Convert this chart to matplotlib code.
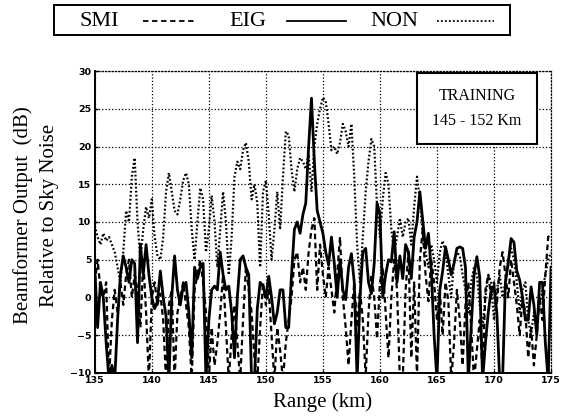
import matplotlib
matplotlib.use("Agg")
import matplotlib.pyplot as plt
from matplotlib.lines import Line2D
import numpy as np

# range samples every 0.25 km, 135 .. 175
range_start = 135.0
range_step = 0.25

# values (dB)
smi = [2, 5, 1, 0, 2, -11, -3, 1, -2, 2, -1, 3, 5, 0, 3, 1, -4, 5, -2, -11,
       0, 2, -1, 0.5, -3, -11, -1, 1, -11, -2, 0, 2, -1, -4, -11, 1, 3, 5, 2, -2,
       -11, -4, -9, -6, -2, 3, -4, -11, -5, -1, -6, -11, -3, 4, 1, -2, -8, -11, -4, 2,
       -1, 1, -5, -11, -4, -7, -11, -6, -3, 0, 5, 6, 2, 4, 1, 6, 9, 10.5, 1, 7,
       3, 0, 4, 1, -2, 3, 8, 0, -4, -9, -3, 2, -4, 1, -3, -10.5, -2, 3, 0, -5.5,
       2, 4, -2, -8, 0, 5, 1, -11, -11, 1, 6, -8, 2, -10.5, 5, 9, 3, -0.5, 5, 2,
       -3, 1, -5, 2, -0.5, -11, -6, 1, -3, -9, -1, 2, -4, -11, -7, -3, -10, 1, 3, 0,
       2, -1, 4, 6, 3, 0, 5, 2, -1, -5, 0, -2, -8, -4, -9, -5, 0, -3, 3, 8,
       8.5]

eig = [4, -4, 2, 0, -6, -11, -9, -11, -3, 3, 5.5, 4, 2, 5, 4.5, -6, 7, 3, 7, 3,
       0, -1.5, -0.5, 3.5, 0, -2.5, -11, 0, 5.5, 1, -1, 1.5, 2, -2, -8, 4, 2.5, 4, 4.5, -11,
       -3, 1, 1.5, 1, 6, 3, 1, 1.5, -2, -8, 0, 5, 5.5, 4, 3, -11, -11, -1.5, 2, 1.5,
       0, 2.8, 0, -3.5, -2, 1, 1, -4, -4, 3, 9, 10, 8.5, 11, 12.5, 20, 26.4, 18, 11.5, 10,
       8.5, 6, 4.3, 8, 4.5, 0, 5, 1, -0.3, 4, 5.8, 2, -11, 0, 6, 6.5, 2, 0.5, 4.5, 12.5,
       11, 0, 3, 5, 4.7, 8.7, 2, 5.5, 2.5, 7, 6, 2.5, 8, 10, 14, 10.3, 6.5, 8.5, 3.7, -5,
       -11, 1, 3.5, 6.7, 5, 3, 4.5, 6.5, 6.7, 6.5, 4, -11, -4, 3, 5.4, 2.7, -11, -6, -2, 1,
       1.5, -2, -11, -11, 2, 4.6, 7.8, 7.3, 3.5, 2.3, 0, -3, -3, 1.4, -1, -5, 2, 2, -6, -11,
       4]

non = [9.5, 8, 7, 8.5, 7.5, 8, 7, 6, 4, 2, 6, 11.5, 10, 16, 18.5, 10, 5, 9, 12, 10.5,
       13, 8, 5.5, 5, 8, 14, 16.5, 14, 11.5, 11, 13, 15.5, 16.5, 15, 9, 5, 10, 14.5, 13, 6,
       9, 13.5, 10, 4, 9, 14, 10, 3, 8, 16, 18, 17, 19.5, 20.5, 18, 13, 15, 12.5, 4, 14,
       15.5, 11, 5, 9, 14, 9, 16, 22, 21.5, 17, 14, 17, 18.5, 18, 17, 19, 14, 20, 23, 25,
       26.5, 26, 23, 19.5, 20, 19, 20.5, 23, 22, 20, 23, 16, 7, 2, 8, 14, 18, 21, 20, 12,
       8, 13, 16.5, 15, 9, 6, 8, 10.5, 8, 10, 10.5, 7, 12, 16, 13, 8.5, 6, 4, 7, 5,
       2, 6, 7.5, 6, 3, 0, 5, 6, 5.5, 3, 1, -2, 2, 4, 3, -1, -4, 0, 3, 2,
       -3, 1, 3, 0, 2, 5, 6.5, 5, 2, -2, 1, 2, -3, -5, -2, -4, -1, 1, 3, 5,
       6]

x_ticks = [135, 140, 145, 150, 155, 160, 165, 170, 175]
y_ticks = [-10, -5, 0, 5, 10, 15, 20, 25, 30]

rng = range_start + range_step * np.arange(len(eig))

serif = ['Liberation Serif', 'DejaVu Serif']

fig = plt.figure(figsize=(5.64, 4.18), dpi=100)
ax = fig.add_axes([0.168, 0.108, 0.809, 0.722])

ax.plot(rng[:len(non)], non, color='black', linestyle=(0, (0.8, 1.0)), linewidth=1.6)
ax.plot(rng[:len(smi)], smi, color='black', linestyle=(0, (2.5, 1.6)), linewidth=1.6)
ax.plot(rng, eig, color='black', linestyle='-', linewidth=2.0)

ax.set_xlim(135, 175)
ax.set_ylim(-10, 30)
ax.set_xticks(x_ticks)
ax.set_yticks(y_ticks)
ax.grid(True, color='black', linestyle=':', linewidth=0.9)
ax.tick_params(direction='in', length=2, width=1, labelsize=6.8, pad=2.5)
for lab in ax.get_xticklabels() + ax.get_yticklabels():
    lab.set_fontweight('bold')
    lab.set_family('DejaVu Sans')
for side in ['top', 'right']:
    ax.spines[side].set_linestyle(':')
    ax.spines[side].set_linewidth(0.9)
for side in ['left', 'bottom']:
    ax.spines[side].set_linewidth(1.4)

ax.set_xlabel('Range (km)', family=serif, fontsize=15, labelpad=5)
fig.text(0.041, 0.485, 'Beamformer Output  (dB)', rotation=90, family=serif,
         fontsize=15, ha='center', va='center')
fig.text(0.087, 0.485, 'Relative to Sky Noise', rotation=90, family=serif,
         fontsize=15, ha='center', va='center')

# training box
ax.text(0.838, 0.876, 'TRAINING\n145 - 152 Km', transform=ax.transAxes,
        family=serif, fontsize=11.5, ha='center', va='center', linespacing=1.8,
        bbox=dict(boxstyle='square,pad=0.95', facecolor='white',
                  edgecolor='black', linewidth=1.5))

# legend box on top
lg = fig.add_axes([0.0957, 0.916, 0.809, 0.072])
lg.set_xlim(0, 1)
lg.set_ylim(0, 1)
lg.set_xticks([])
lg.set_yticks([])
for sp in lg.spines.values():
    sp.set_linewidth(1.4)
entries = [('SMI', (0, (3, 2)), 0.10, 0.195, 0.31),
           ('EIG', '-', 0.425, 0.51, 0.64),
           ('NON', (0, (1, 1.2)), 0.745, 0.84, 0.965)]
for name, ls, tx, x0, x1 in entries:
    lg.text(tx, 0.45, name, family=serif, fontsize=16, ha='center', va='center')
    lg.add_line(Line2D([x0, x1], [0.47, 0.47], color='black', linestyle=ls,
                       linewidth=1.3))

fig.savefig('out.png', dpi=100)
